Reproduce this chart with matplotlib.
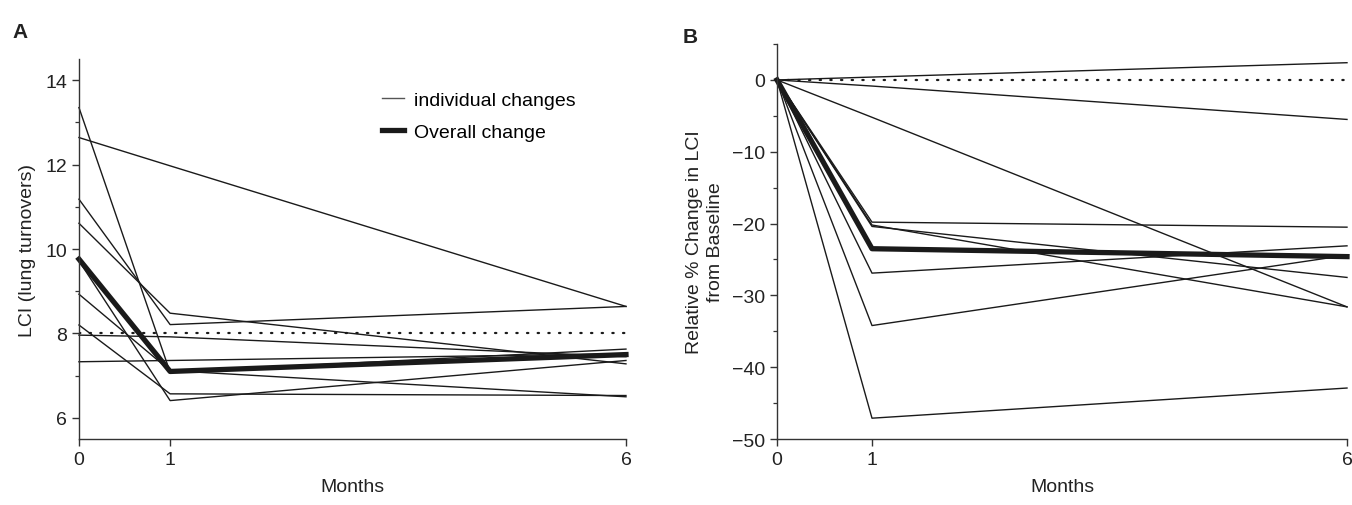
import numpy as np
import matplotlib.pyplot as plt
from matplotlib.ticker import MultipleLocator

plt.rcParams['font.family'] = ['Liberation Sans', 'DejaVu Sans']

# --- data ---
months = [0, 1, 6]

# Panel A: LCI (lung turnovers) per subject at 0, 1, 6 months
lci_individual = [
    [12.64, 11.97, 8.64],
    [7.96, 7.92, 7.45],
    [7.33, 7.36, 7.52],
    [13.35, 7.08, 7.63],
    [11.18, 8.21, 8.64],
    [10.61, 8.48, 7.28],
    [8.93, 7.12, 6.50],
    [9.72, 6.41, 7.36],
    [8.20, 6.57, 6.53],
]
lci_overall = [9.76, 7.10, 7.50]
lci_normal = 8

# Panel B: relative % change from baseline
rel_individual = [
    [0, -5.2, -31.6],
    [0, -0.85, -5.5],
    [0, 0.4, 2.4],
    [0, -47.1, -42.9],
    [0, -26.9, -23.1],
    [0, -20.2, -31.6],
    [0, -20.4, -27.5],
    [0, -34.2, -24.4],
    [0, -19.8, -20.5],
]
rel_overall = [0, -23.5, -24.6]
rel_ref = 0

line_col = '#1a1a1a'
axis_col = '#333333'
txt_col = '#222222'
fs = 14

fig = plt.figure(figsize=(13.52, 5.06), dpi=100)
axA = fig.add_axes([0.0584, 0.1304, 0.4046, 0.751])
axB = fig.add_axes([0.5747, 0.1304, 0.4216, 0.7806])


def style_axis(ax):
    for s in ['top', 'right']:
        ax.spines[s].set_visible(False)
    for s in ['left', 'bottom']:
        ax.spines[s].set_color(axis_col)
        ax.spines[s].set_linewidth(1.0)
    ax.tick_params(which='major', direction='out', length=5, width=1.0,
                   color=axis_col, labelsize=fs, labelcolor=txt_col)
    ax.tick_params(which='minor', direction='out', length=3, width=0.9,
                   color=axis_col)
    ax.set_xticks(months)
    ax.set_xlim(0, 6)
    ax.set_xlabel('Months', fontsize=fs, color=txt_col, labelpad=7)


# Panel A
for row in lci_individual:
    axA.plot(months, row, color=line_col, lw=1.0, clip_on=False)
axA.plot(months, lci_overall, color=line_col, lw=3.8, clip_on=False)
axA.plot([0, 6], [lci_normal, lci_normal], color=line_col, lw=1.6,
         linestyle=(0, (0.6, 4.2)), dash_capstyle='round')
axA.set_ylim(5.5, 14.5)
axA.yaxis.set_major_locator(MultipleLocator(2))
axA.yaxis.set_minor_locator(MultipleLocator(1))
axA.set_ylabel('LCI (lung turnovers)', fontsize=fs, color=txt_col, labelpad=7)
style_axis(axA)

hA1, = axA.plot([], [], color='#555555', lw=1.0)
hA2, = axA.plot([], [], color=line_col, lw=3.8)
axA.legend([hA1, hA2], ['individual changes', 'Overall change'],
           loc='upper left', bbox_to_anchor=(0.54, 0.935), frameon=False,
           fontsize=fs, handlelength=1.15, handletextpad=0.5,
           labelspacing=0.75, borderaxespad=0)

# Panel B
for row in rel_individual:
    axB.plot(months, row, color=line_col, lw=1.0, clip_on=False)
axB.plot(months, rel_overall, color=line_col, lw=3.8, clip_on=False)
axB.plot([0, 6], [rel_ref, rel_ref], color=line_col, lw=1.6,
         linestyle=(0, (0.6, 4.2)), dash_capstyle='round')
axB.set_ylim(-50, 5)
axB.yaxis.set_minor_locator(MultipleLocator(5))
axB.set_yticks([0, -10, -20, -30, -40, -50])
axB.set_ylabel('Relative % Change in LCI\nfrom Baseline', fontsize=fs,
               color=txt_col, labelpad=6, linespacing=1.3)
style_axis(axB)

fig.text(0.009, 0.925, 'A', fontsize=15, fontweight='bold', color=txt_col)
fig.text(0.505, 0.915, 'B', fontsize=15, fontweight='bold', color=txt_col)

fig.savefig('out.png', dpi=100)
